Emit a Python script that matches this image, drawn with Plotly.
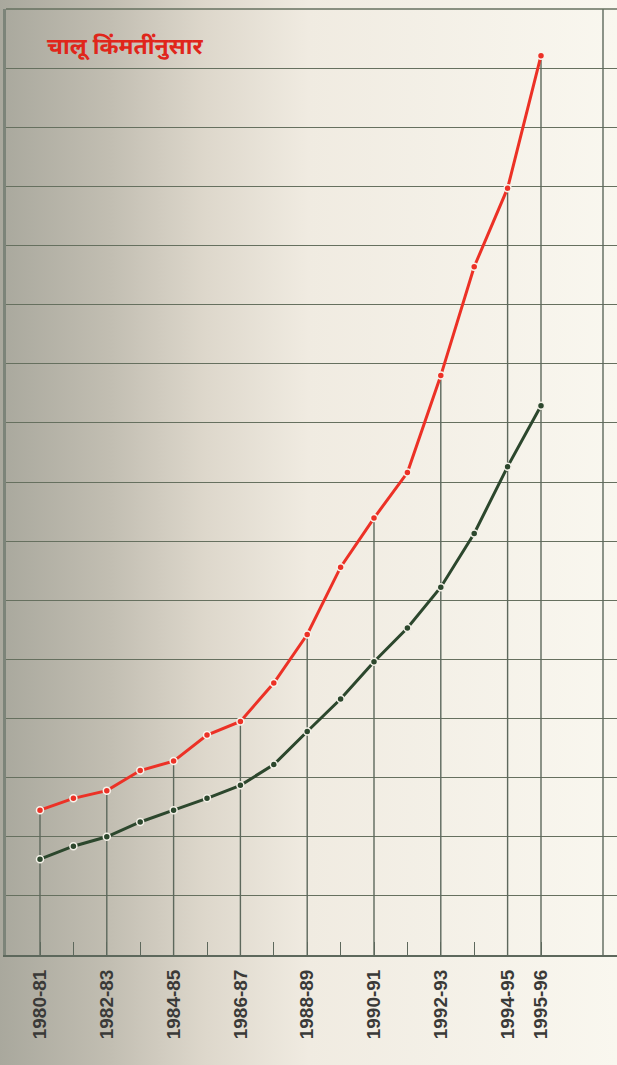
import base64
import plotly.graph_objects as go

years = ["1980-81", "1981-82", "1982-83", "1983-84", "1984-85", "1985-86",
         "1986-87", "1987-88", "1988-89", "1989-90", "1990-91", "1991-92",
         "1992-93", "1993-94", "1994-95", "1995-96"]
labelled = ["1980-81", "1982-83", "1984-85", "1986-87", "1988-89", "1990-91",
            "1992-93", "1994-95", "1995-96"]
red_values = [2.45, 2.65, 2.78, 3.12, 3.28, 3.72, 3.95, 4.60, 5.42, 6.56,
              7.39, 8.16, 9.80, 11.64, 12.97, 15.21]
green_values = [1.62, 1.84, 2.00, 2.25, 2.45, 2.65, 2.87, 3.22, 3.78, 4.33,
                4.96, 5.53, 6.22, 7.13, 8.26, 9.29]
title_text = "चालू किंमतींनुसार"

idx = list(range(len(years)))
x_lab = [years.index(y) for y in labelled]

# drop lines from the red points down to the axis at labelled years
drop_x, drop_y = [], []
for i in x_lab:
    drop_x += [i, i, None]
    drop_y += [0, red_values[i], None]

svg = ("<svg xmlns='http://www.w3.org/2000/svg' width='100' height='100' preserveAspectRatio='none'>"
       "<defs><linearGradient id='g' x1='0' x2='1' y1='0' y2='0'>"
       "<stop offset='0' stop-color='#a9a89d'/>"
       "<stop offset='0.18' stop-color='#c2beb2'/>"
       "<stop offset='0.33' stop-color='#ddd7cb'/>"
       "<stop offset='0.5' stop-color='#f0ebe1'/>"
       "<stop offset='1' stop-color='#f9f7ef'/>"
       "</linearGradient></defs><rect width='100' height='100' fill='url(#g)'/></svg>")
svg_uri = "data:image/svg+xml;base64," + base64.b64encode(svg.encode()).decode()

fig = go.Figure()
fig.add_trace(go.Scatter(x=drop_x, y=drop_y, mode="lines",
                         line=dict(color="#5d685c", width=1.4),
                         hoverinfo="skip", showlegend=False))
fig.add_trace(go.Scatter(x=idx, y=green_values, mode="lines+markers",
                         line=dict(color="#2c472d", width=3),
                         marker=dict(color="#2c472d", size=7,
                                     line=dict(color="#f4f1e8", width=1.5)),
                         showlegend=False))
fig.add_trace(go.Scatter(x=idx, y=red_values, mode="lines+markers",
                         line=dict(color="#ec3126", width=3),
                         marker=dict(color="#ec3126", size=7,
                                     line=dict(color="#f8f4ec", width=1.5)),
                         showlegend=False))

W, H = 617, 1065
ml, mr, mt, mb = 6, 0, 9, 110
pw = W - ml - mr
ph = H - mt - mb
px_per = 33.4
x0 = (ml - 40) / px_per  # category 0 sits at 40px
x1 = x0 + pw / px_per

fig.update_layout(
    width=W, height=H,
    margin=dict(l=ml, r=mr, t=mt, b=mb),
    paper_bgcolor="#f4f1e8",
    plot_bgcolor="rgba(0,0,0,0)",
    images=[dict(source=svg_uri, xref="paper", yref="paper",
                 x=-ml / pw, y=1 + mt / ph, sizex=W / pw, sizey=H / ph,
                 xanchor="left", yanchor="top", sizing="stretch",
                 layer="below")],
    xaxis=dict(range=[x0, x1], tickvals=idx,
               ticktext=[y if y in labelled else "" for y in years],
               tickangle=-90, ticks="inside", ticklen=13, tickwidth=1.4,
               tickcolor="#5d685c", showgrid=False, zeroline=False,
               showline=True, linecolor="#5d685c", linewidth=2,
               tickfont=dict(family="Liberation Sans, Arial, sans-serif",
                             size=19, color="#3a3a38", weight="bold"),
               ticklabelstandoff=5),
    yaxis=dict(range=[0, 16], dtick=1, showticklabels=False, ticks="",
               showgrid=True, gridcolor="#66705f", gridwidth=1.4,
               zeroline=False, showline=True, linecolor="#7c8479",
               linewidth=3, mirror=False),
    shapes=[dict(type="line", xref="paper", yref="paper",
                 x0=(603 - ml) / pw, x1=(603 - ml) / pw, y0=0, y1=1,
                 line=dict(color="#5d685c", width=1.4)),
            dict(type="line", xref="paper", yref="paper",
                 x0=0, x1=1, y0=1, y1=1,
                 line=dict(color="#66705f", width=1.4))],
    annotations=[dict(text=title_text, xref="paper", yref="paper",
                      x=(45 - ml) / pw, y=1 - (48 - mt) / ph,
                      xanchor="left", yanchor="middle", showarrow=False,
                      font=dict(family="Noto Sans Devanagari, Lohit Devanagari, Noto Sans, sans-serif",
                                size=23, color="#e0261b", weight="bold"))],
)

fig.write_html("out.html", config={"displayModeBar": False},
               post_script="document.body.style.margin='0';document.body.style.padding='0';")
